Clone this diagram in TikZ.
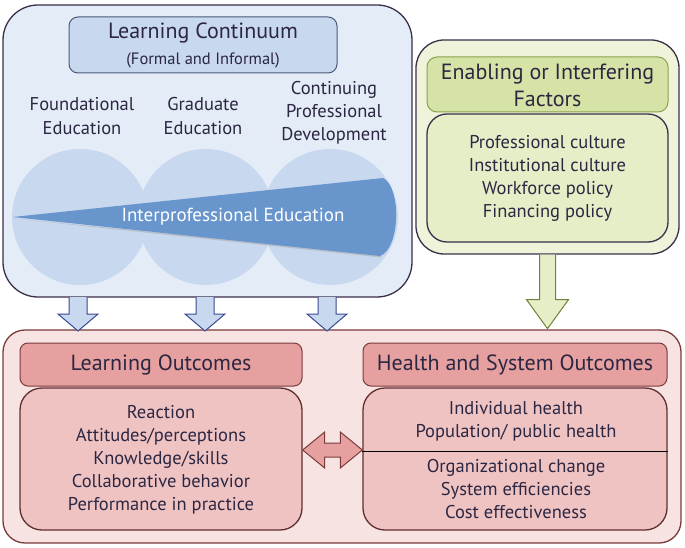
\documentclass[tikz,border=0pt]{standalone}
\usepackage{fontspec}
\setmainfont{PT Sans}
\usetikzlibrary{calc}
\definecolor{txt}{HTML}{2B2742}
\definecolor{bluebg}{HTML}{E4ECF7}
\definecolor{bluemid}{HTML}{C8D8EE}
\definecolor{bluedark}{HTML}{6795CC}
\definecolor{blueline}{HTML}{4A5A78}
\definecolor{frame}{HTML}{3B2F4A}
\definecolor{greenbg}{HTML}{EEF3DA}
\definecolor{greenhd}{HTML}{D6E3A6}
\definecolor{greenbody}{HTML}{E6EEC8}
\definecolor{greenline}{HTML}{8AA34A}
\definecolor{pinkbg}{HTML}{F8E3E3}
\definecolor{pinkhd}{HTML}{E5A09F}
\definecolor{pinkbody}{HTML}{F0C3C3}
\definecolor{pinkline}{HTML}{7A3B3B}
\tikzset{
  panel/.style={draw, line width=1.3pt, inner sep=0pt},
  lbl/.style={text=txt, align=center, font=\fontsize{18.5}{23}\selectfont, inner sep=0pt},
  blockarrow/.style={line width=1pt, line join=miter}
}
\begin{document}
\begin{tikzpicture}[x=1pt,y=-1pt]
\useasboundingbox (0,0) rectangle (685,548);
% ---- Learning continuum panel
\node[panel, draw=frame, fill=bluebg, rounded corners=35pt, minimum width=409pt, minimum height=292pt] (lc) at (207.5,151) {};
\node[panel, draw=blueline, line width=1pt, fill=bluemid, rounded corners=9pt, minimum width=268pt, minimum height=56pt] (lct) at (203,45) {};
\node[lbl, font=\fontsize{22}{26}\selectfont] (lctA) at (203,33) {Learning Continuum};
\node[lbl, font=\fontsize{16.5}{20}\selectfont] (lctB) at (203,60) {(Formal and Informal)};
\node[lbl, font=\fontsize{18.5}{24}\selectfont] (fe) at (82,116) {Foundational\\Education};
\node[lbl, font=\fontsize{18.5}{24}\selectfont] (ge) at (203,116) {Graduate\\Education};
\node[lbl] (cpd) at (334,113) {Continuing\\Professional\\Development};
\fill[bluemid] (80,217) circle (68pt);
\fill[bluemid] (206,217) circle (68pt);
\fill[bluemid] (330,217) circle (68pt);
\coordinate (wtip) at (13,217);
\fill[black!35, opacity=0.5] ($(wtip)+(0,1.5)$) -- (381,257.5) -- (381,254) -- cycle;
\fill[bluedark] (wtip) -- (383,178) .. controls (401,186) and (401,248) .. (380,256) -- cycle;
\node[lbl, text=white, font=\fontsize{19}{22}\selectfont] (ipe) at (233,217) {Interprofessional Education};
% ---- Enabling factors panel
\node[panel, draw=frame, fill=greenbg, rounded corners=28pt, minimum width=263pt, minimum height=214pt] (ef) at (547.5,147) {};
\node[panel, draw=greenline, line width=1pt, fill=greenhd, rounded corners=10pt, minimum width=241pt, minimum height=55pt] (efh) at (547.5,84.5) {};
\node[lbl, font=\fontsize{22}{27}\selectfont] (efhT) at (547.5,85) {Enabling or Interfering\\Factors};
\node[panel, draw=frame, fill=greenbody, rounded corners=20pt, minimum width=241pt, minimum height=128pt] (efb) at (547.5,178) {};
\node[lbl] (efbT) at (547.5,178) {Professional culture\\Institutional culture\\Workforce policy\\Financing policy};
% ---- Outcomes panel
\node[panel, draw=pinkline, fill=pinkbg, rounded corners=22pt, minimum width=678pt, minimum height=213pt] (oc) at (342,436.5) {};
\node[panel, draw=pinkline, line width=1pt, fill=pinkhd, rounded corners=8pt, minimum width=282pt, minimum height=43pt] (loh) at (161,364.5) {};
\node[lbl, font=\fontsize{22}{26}\selectfont] (lohT) at (161,365) {Learning Outcomes};
\node[panel, draw=pinkline!80!black, fill=pinkbody, rounded corners=22pt, minimum width=282pt, minimum height=142pt] (lob) at (161,459) {};
\node[lbl] (lobT) at (161,460) {Reaction\\Attitudes/perceptions\\Knowledge/skills\\Collaborative behavior\\Performance in practice};
\node[panel, draw=pinkline, line width=1pt, fill=pinkhd, rounded corners=8pt, minimum width=304pt, minimum height=43pt] (hsh) at (515,364.5) {};
\node[lbl, font=\fontsize{22}{26}\selectfont] (hshT) at (515,365) {Health and System Outcomes};
\node[panel, draw=pinkline!80!black, fill=pinkbody, rounded corners=22pt, minimum width=304pt, minimum height=142pt] (hsb) at (515,459) {};
\draw[black, line width=1pt] (hsb.west |- 0,451) -- (hsb.east |- 0,451);
\node[lbl] (hsbA) at (516,421) {Individual health\\Population/ public health};
\node[lbl] (hsbB) at (516,489) {Organizational change\\System efficiencies\\Cost effectiveness};
% ---- blue block arrows
\foreach \n/\x in {a1/78,a2/205,a3/327}{
  \coordinate (\n) at (\x,297);
  \filldraw[blockarrow, fill=bluemid, draw=blueline!80!blue]
    ($(\n)+(-9,0)$) -- ($(\n)+(-9,17)$) -- ($(\n)+(-20,17)$) -- ($(\n)+(0,34)$)
    -- ($(\n)+(20,17)$) -- ($(\n)+(9,17)$) -- ($(\n)+(9,0)$);
}
% ---- green block arrow
\coordinate (ga) at (ef.south);
\filldraw[blockarrow, fill=greenbody, draw=greenline!80!black]
  ($(ga)+(-8,0)$) -- ($(ga)+(-8,45)$) -- ($(ga)+(-21,45)$) -- ($(ga)+(0,74)$)
  -- ($(ga)+(21,45)$) -- ($(ga)+(8,45)$) -- ($(ga)+(8,0)$);
% ---- double arrow
\coordinate (dl) at (lob.east |- 0,450);
\coordinate (dr) at (hsb.west |- 0,450);
\filldraw[blockarrow, fill=pinkhd, draw=pinkline]
  (dl) -- ($(dl)+(22,-18)$) -- ($(dl)+(22,-7)$) -- ($(dr)+(-22,-7)$) -- ($(dr)+(-22,-18)$)
  -- (dr) -- ($(dr)+(-22,18)$) -- ($(dr)+(-22,7)$) -- ($(dl)+(22,7)$) -- ($(dl)+(22,18)$) -- cycle;
\end{tikzpicture}
\end{document}
